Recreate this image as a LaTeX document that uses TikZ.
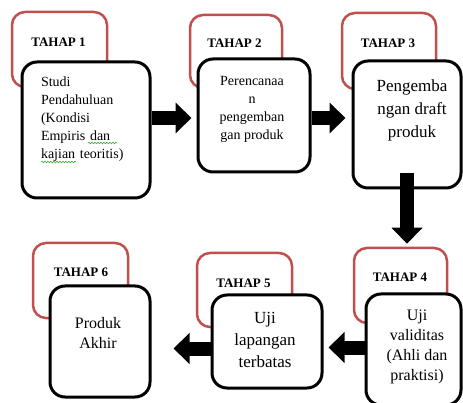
\documentclass[tikz,border=0pt]{standalone}
\usepackage{fontspec}
\setmainfont{Liberation Serif}
\usetikzlibrary{positioning, arrows.meta, decorations.pathmorphing}
\definecolor{tahapred}{RGB}{192,80,77}
\definecolor{ejaan}{RGB}{60,170,60}

\begin{document}
\begin{tikzpicture}[
  x=1pt, y=-1pt,
  tahapbox/.style={rectangle, draw=tahapred, line width=2.5pt, rounded corners=13pt, inner sep=0pt},
  isibox/.style={rectangle, draw=black, fill=white, line width=3pt, rounded corners=15pt, inner sep=0pt},
  tahap/.style={font=\bfseries\fontsize{13}{15}\selectfont, inner sep=0pt},
  isi/.style={align=center, inner sep=0pt},
  blok/.style={line width=14pt, -{Triangle[length=16pt,width=30pt]}},
  salah/.style={draw=ejaan, line width=0.6pt, decorate, decoration={snake, amplitude=0.8pt, segment length=3pt}}
]
  \useasboundingbox (0,0) rectangle (463,403);

  % bingkai merah tahap
  \node[tahapbox, minimum width=95pt, minimum height=75pt] (r1) at (59.5,49.5) {};
  \node[tahapbox, minimum width=92pt, minimum height=73pt] (r2) at (236,51.5) {};
  \node[tahapbox, minimum width=94pt, minimum height=76pt] (r3) at (389,51) {};
  \node[tahapbox, minimum width=93pt, minimum height=75pt] (r4) at (400.5,285.5) {};
  \node[tahapbox, minimum width=95pt, minimum height=74pt] (r5) at (244.5,290) {};
  \node[tahapbox, minimum width=95pt, minimum height=75pt] (r6) at (80.5,280.5) {};

  % label tahap
  \node[tahap] (l1) at (58.5,42) {TAHAP 1};
  \node[tahap] (l2) at (234.5,43) {TAHAP 2};
  \node[tahap] (l3) at (388,43) {TAHAP 3};
  \node[tahap] (l4) at (400,277) {TAHAP 4};
  \node[tahap] (l5) at (243.5,283) {TAHAP 5};
  \node[tahap] (l6) at (81,272) {TAHAP 6};

  % kotak isi
  \node[isibox, minimum width=128pt, minimum height=136pt] (b1) at (86,130) {};
  \node[isibox, minimum width=112pt, minimum height=113pt] (b2) at (254,115.5) {};
  \node[isibox, minimum width=108pt, minimum height=127pt] (b3) at (407,124.5) {};
  \node[isibox, minimum width=95pt, minimum height=111pt] (b4) at (413.5,349.5) {};
  \node[isibox, minimum width=110pt, minimum height=93pt] (b5) at (267,341.5) {};
  \node[isibox, minimum width=100pt, minimum height=111pt] (b6) at (100,341.5) {};

  % teks isi
  \node[isi, align=left, text width=84pt, font=\fontsize{14}{18}\selectfont] (t1) at (83,119)
    {Studi\\Pendahuluan\\(Kondisi\\Empiris dan\\kajian teoritis)};
  \node[isi, font=\fontsize{14}{18}\selectfont] (t2) at (252,109.5)
    {Perencanaa\\n\\pengemban\\gan produk};
  \node[isi, font=\fontsize{17}{23}\selectfont] (t3) at (412,110)
    {Pengemba\\ngan draft\\produk};
  \node[isi, font=\fontsize{16}{20}\selectfont] (t4) at (417,347)
    {Uji\\validitas\\(Ahli dan\\praktisi)};
  \node[isi, font=\fontsize{17}{22}\selectfont] (t5) at (265,340)
    {Uji\\lapangan\\terbatas};
  \node[isi, font=\fontsize{16}{20}\selectfont] (t6) at (98,333)
    {Produk\\Akhir};

  % garis ejaan
  \draw[salah] (88,143) -- (117,143);
  \draw[salah] (41,162) -- (76,162);

  % panah antar tahap
  \coordinate (a1) at ([yshift=12pt]b1.east);
  \draw[blok, shorten >=5pt] (a1) -- (a1 -| b2.west);
  \coordinate (a2) at ([yshift=-2.5pt]b2.east);
  \draw[blok, shorten >=6pt] (a2) -- (a2 -| b3.west);
  \draw[blok, shorten <=-16pt, shorten >=3pt] (b3.south) -- (b3.south |- r4.north);
  \coordinate (a4) at ([yshift=2pt]b4.west);
  \draw[blok, shorten >=5pt] (a4) -- (a4 -| b5.east);
  \coordinate (a5) at ([yshift=-7pt]b5.west);
  \draw[blok, shorten >=22pt] (a5) -- (a5 -| b6.east);
\end{tikzpicture}
\end{document}
